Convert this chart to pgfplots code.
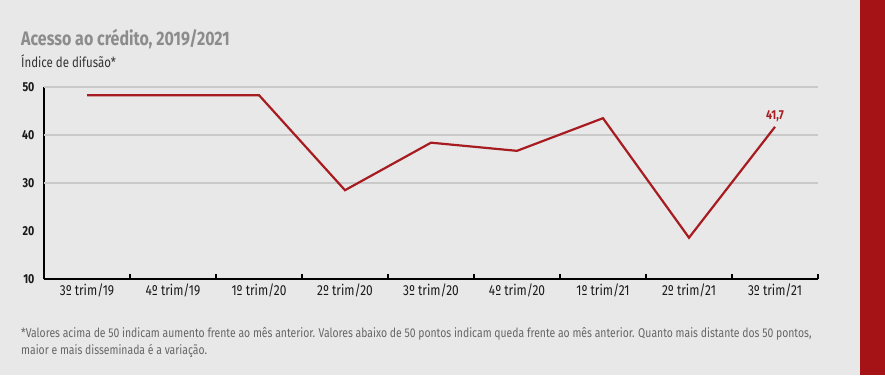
\documentclass[border=0pt]{standalone}
\usepackage{pgfplots}
\pgfplotsset{compat=1.18}
\usepackage{fontspec}
\setmainfont{Fira Sans}[FakeStretch=0.82]
\definecolor{bg}{HTML}{E8E8E8}
\definecolor{barred}{HTML}{A61317}
\definecolor{linered}{HTML}{A71C20}
\definecolor{titlegray}{HTML}{8C8C8C}
\definecolor{gridgray}{HTML}{C9C9C9}
\definecolor{notegray}{HTML}{666666}
\begin{document}
\begin{tikzpicture}[x=1pt,y=1pt]
\fill[bg] (0,0) rectangle (885,375);
\fill[barred] (860,0) rectangle (885,375);
\node[anchor=base west,inner sep=0,text=titlegray,font=\fontsize{19.5}{24}\selectfont\bfseries] at (21,329) {Acesso ao crédito, 2019/2021};
\node[anchor=base west,inner sep=0,text=black!80,font=\fontsize{14}{16}\selectfont] at (21,307) {Índice de difusão*};
\begin{axis}[
  at={(44pt,96pt)}, anchor=south west,
  width=774pt, height=192pt, scale only axis,
  xmin=0, xmax=9, ymin=10, ymax=50,
  axis x line*=bottom, axis y line*=left,
  axis line style={black, line width=1.4pt},
  xtick={0.5,1.5,...,8.5},
  xticklabels={3º trim/19,4º trim/19,1º trim/20,2º trim/20,3º trim/20,4º trim/20,1º trim/21,2º trim/21,3º trim/21},
  minor xtick={1,2,...,9},
  major tick length=0pt, minor tick length=5pt,
  minor tick style={black, line width=1.2pt},
  tick align=inside,
  ytick={10,20,30,40,50},
  extra y ticks={30,40,50}, extra y tick labels={},
  extra y tick style={grid=major, major grid style={gridgray, line width=1.2pt}},
  /pgf/number format/assume math mode=true,
  ticklabel style={font=\fontsize{14.5}{16}\selectfont, text=black!90},
  yticklabel style={font=\fontsize{13}{15}\selectfont\bfseries, xshift=-6pt},
  xticklabel style={yshift=-1pt},
  clip=false,
]
\addplot[linered, line width=2.2pt, line join=miter] coordinates {
 (0.5,48.3) (1.5,48.3) (2.5,48.3) (3.5,28.5) (4.5,38.4) (5.5,36.7) (6.5,43.5) (7.5,18.6) (8.5,41.7)};
\node[above=2pt, text=linered, font=\fontsize{13}{15}\selectfont\bfseries] at (axis cs:8.5,41.7) {41,7};
\end{axis}
\node[anchor=base west,inner sep=0,text=notegray,font=\fontsize{12.7}{14}\selectfont,align=left] at (21,38) {*Valores acima de 50 indicam aumento frente ao mês anterior. Valores abaixo de 50 pontos indicam queda frente ao mês anterior. Quanto mais distante dos 50 pontos,};
\node[anchor=base west,inner sep=0,text=notegray,font=\fontsize{12.7}{14}\selectfont,align=left] at (21,21) {maior e mais disseminada é a variação.};
\end{tikzpicture}
\end{document}
